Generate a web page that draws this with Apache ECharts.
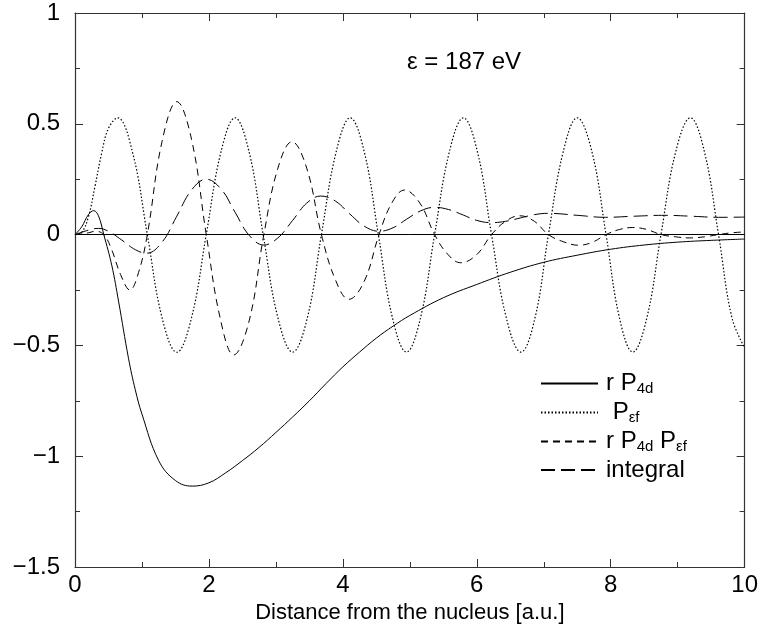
<!DOCTYPE html>
<html>
<head>
<meta charset="utf-8">
<script src="https://cdn.jsdelivr.net/npm/echarts@6/dist/echarts.min.js"></script>
<style>html,body{margin:0;padding:0;background:#fff;}#c{width:761px;height:632px;}</style>
</head>
<body>
<div id="c"></div>
<script>
// ---- data ----
var xTicks = [0, 2, 4, 6, 8, 10];
var yTicks = [-1.5, -1, -0.5, 0, 0.5, 1];
var seriesNames = ['rP4d', 'Pef', 'rP4dPef', 'integral'];

var rP4d = [[0,0],[0.1,0.035],[0.2,0.09],[0.28,0.108],[0.35,0.085],[0.43,0],[0.55,-0.14],[0.65,-0.3],[0.8,-0.56],[0.9,-0.7],[1.0,-0.81],[1.25,-1.02],[1.5,-1.11],[1.75,-1.135],[2.0,-1.12],[2.25,-1.075],[2.5,-1.02],[2.75,-0.96],[3.0,-0.893],[3.25,-0.823],[3.5,-0.75],[3.75,-0.672],[4.0,-0.597],[4.25,-0.53],[4.5,-0.467],[4.75,-0.413],[5.0,-0.365],[5.5,-0.285],[6.0,-0.225],[6.5,-0.17],[7.0,-0.125],[7.5,-0.093],[8.0,-0.066],[8.5,-0.047],[9.0,-0.034],[9.5,-0.026],[10,-0.02]];

var Pef = [[0,0],[0.1,0.01],[0.2,0.08],[0.3,0.22],[0.4,0.37],[0.5,0.48],[0.635,0.527],[0.86,0.37],[1.08,0],[1.30,-0.375],[1.52,-0.531],[1.74,-0.375],[1.96,0],[2.18,0.373],[2.39,0.527],[2.60,0.373],[2.81,0],[3.03,-0.375],[3.25,-0.53],[3.47,-0.375],[3.68,0],[3.90,0.373],[4.11,0.527],[4.32,0.373],[4.53,0],[4.74,-0.375],[4.95,-0.53],[5.16,-0.375],[5.37,0],[5.59,0.373],[5.80,0.527],[6.01,0.373],[6.22,0],[6.44,-0.375],[6.66,-0.53],[6.87,-0.375],[7.07,0],[7.29,0.373],[7.50,0.527],[7.72,0.373],[7.93,0],[8.13,-0.375],[8.33,-0.53],[8.54,-0.375],[8.75,0],[8.97,0.373],[9.19,0.527],[9.40,0.373],[9.61,0],[9.81,-0.375],[10,-0.51]];

var rP4dPef = [[0,0],[0.2,0.008],[0.3,0.015],[0.43,0],[0.55,-0.07],[0.68,-0.18],[0.82,-0.25],[0.95,-0.17],[1.08,0],[1.3,0.42],[1.52,0.600],[1.74,0.43],[1.96,0],[2.17,-0.38],[2.37,-0.543],[2.6,-0.39],[2.82,0],[3.03,0.3],[3.24,0.419],[3.46,0.3],[3.68,0],[3.89,-0.205],[4.09,-0.292],[4.32,-0.21],[4.54,0],[4.73,0.142],[4.92,0.201],[5.15,0.142],[5.37,0],[5.57,-0.09],[5.76,-0.127],[6.0,-0.09],[6.22,0],[6.43,0.06],[6.64,0.085],[6.86,0.06],[7.07,0],[7.3,-0.033],[7.52,-0.048],[7.73,-0.034],[7.93,0],[8.13,0.023],[8.33,0.032],[8.54,0.023],[8.75,0],[8.97,-0.01],[9.17,-0.015],[9.4,-0.01],[9.61,0],[9.8,0.008],[10,0.012]];

var integral = [[0,0],[0.2,0.02],[0.35,0.028],[0.5,0.015],[0.7,-0.025],[0.9,-0.068],[1.07,-0.084],[1.3,-0.034],[1.52,0.083],[1.74,0.201],[1.96,0.25],[2.18,0.206],[2.39,0.101],[2.6,-0.003],[2.82,-0.047],[3.03,-0.015],[3.25,0.064],[3.46,0.142],[3.67,0.174],[3.89,0.151],[4.1,0.094],[4.32,0.038],[4.54,0.015],[4.75,0.031],[4.95,0.069],[5.16,0.107],[5.37,0.123],[5.58,0.113],[5.8,0.088],[6.0,0.064],[6.22,0.054],[6.43,0.06],[6.65,0.075],[6.86,0.09],[7.07,0.096],[7.5,0.087],[7.92,0.078],[8.35,0.083],[8.8,0.087],[9.2,0.083],[9.61,0.078],[10,0.079]];

var annotation = 'ε = 187 eV';
var xTitle = 'Distance from the nucleus [a.u.]';

// ---- chart ----
var FONT = 'Liberation Sans, Arial, Helvetica, sans-serif';
var chart = echarts.init(document.getElementById('c'), null, {renderer: 'canvas'});
var axisCol = '#333';
function axisBase(extra) {
  var o = {
    type: 'value',
    axisLine: {show: true, onZero: false, lineStyle: {color: axisCol, width: 1.2}},
    axisTick: {show: true, inside: true, length: 8, lineStyle: {color: axisCol}},
    minorTick: {show: true, splitNumber: 2, length: 5, lineStyle: {color: axisCol}},
    splitLine: {show: false},
    axisLabel: {show: false}
  };
  for (var k in extra) o[k] = extra[k];
  return o;
}
function fmtNum(v) { return (v < 0 ? '\u2212' : '') + Math.abs(v); }

var legendMap = {
  'rP4d': '{f|r P}{s|4d}',
  'Pef': '{f| P}{s|\u03b5f}',
  'rP4dPef': '{f|r P}{s|4d}{m| P}{s|\u03b5f}',
  'integral': '{f|integral}'
};

function lineSeries(name, data, type, w) {
  return {
    name: name, type: 'line', data: data, smooth: 0.4, symbol: 'none',
    lineStyle: {color: '#000', width: w || 1, type: type},
    itemStyle: {color: '#000'},
    z: 3
  };
}

var series = [
  lineSeries(seriesNames[0], rP4d, 'solid'),
  lineSeries(seriesNames[1], Pef, [1.5, 2], 1.2),
  lineSeries(seriesNames[2], rP4dPef, [7, 5]),
  lineSeries(seriesNames[3], integral, [14, 6])
];
series[0].markLine = {
  silent: true, symbol: 'none', label: {show: false},
  lineStyle: {color: '#000', width: 1, type: 'solid'},
  data: [{yAxis: 0}]
};

chart.setOption({
  animation: false,
  backgroundColor: '#fff',
  grid: {left: 75, right: 14, top: 13, bottom: 65, containLabel: false},
  xAxis: [
    axisBase({
      position: 'bottom', min: xTicks[0], max: xTicks[xTicks.length - 1], interval: xTicks[1] - xTicks[0],
      axisLabel: {show: true, color: '#000', fontFamily: FONT, fontSize: 24, margin: 6},
      name: xTitle, nameLocation: 'middle', nameGap: 24,
      nameTextStyle: {color: '#000', fontFamily: FONT, fontSize: 22}
    }),
    axisBase({position: 'top', min: xTicks[0], max: xTicks[xTicks.length - 1], interval: xTicks[1] - xTicks[0]})
  ],
  yAxis: [
    axisBase({
      position: 'left', min: yTicks[0], max: yTicks[yTicks.length - 1], interval: yTicks[1] - yTicks[0],
      axisLabel: {show: true, color: '#000', fontFamily: FONT, fontSize: 24, margin: 15, formatter: fmtNum}
    }),
    axisBase({position: 'right', min: yTicks[0], max: yTicks[yTicks.length - 1], interval: yTicks[1] - yTicks[0]})
  ],
  legend: {
    data: seriesNames,
    orient: 'vertical',
    left: 535, top: 366,
    itemWidth: 57, itemHeight: 2, itemGap: 4,
    itemStyle: {opacity: 0},
    formatter: function (n) { return legendMap[n]; },
    textStyle: {
      color: '#000', fontFamily: FONT, fontSize: 24,
      rich: {
        f: {fontFamily: FONT, fontSize: 24, color: '#000', lineHeight: 24, padding: [0, 0, 0, 3]},
        m: {fontFamily: FONT, fontSize: 24, color: '#000', lineHeight: 24},
        s: {fontFamily: FONT, fontSize: 15, color: '#000', lineHeight: 15, padding: [10, 0, 0, 0]}
      }
    },
    selectedMode: false
  },
  graphic: [{
    type: 'text', left: 407, top: 50,
    style: {text: annotation, font: '24px ' + FONT, fill: '#000'}
  }],
  series: series
});
</script>
</body>
</html>
